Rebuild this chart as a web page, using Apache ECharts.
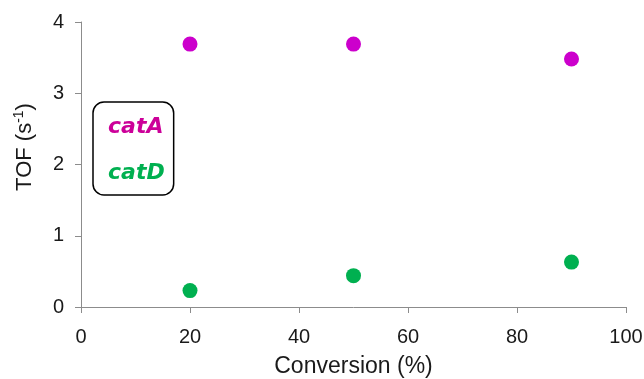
<!DOCTYPE html>
<html>
<head>
<meta charset="utf-8">
<script src="https://cdn.jsdelivr.net/npm/echarts@6/dist/echarts.min.js"></script>
<style>html,body{margin:0;padding:0;background:#fff}#c{width:644px;height:379px}</style>
</head>
<body>
<div id="c"></div>
<script>
const conversion = [20, 50, 90];
const catA = [3.69, 3.69, 3.48];
const catD = [0.23, 0.44, 0.63];
const seriesNames = ['catA', 'catD'];
const xTicks = [0, 20, 40, 60, 80, 100];
const yTicks = [0, 1, 2, 3, 4];

const chart = echarts.init(document.getElementById('c'));
const axisGray = '#8c8c8c';
const lab = {color: '#1a1a1a', fontSize: 20, fontFamily: 'Liberation Sans'};
chart.setOption({
  animation: false,
  grid: {left: 81, right: 18, top: 22, bottom: 72, containLabel: false, outerBoundsMode: 'none'},
  xAxis: {
    type: 'value', min: xTicks[0], max: xTicks[xTicks.length-1], interval: 20,
    axisLine: {lineStyle: {color: axisGray, width: 1}},
    axisTick: {show: true, length: 6, lineStyle: {color: axisGray}},
    splitLine: {show: false},
    axisLabel: Object.assign({margin: 20}, lab),
    name: 'Conversion (%)', nameLocation: 'middle', nameGap: 48,
    nameTextStyle: {color: '#1a1a1a', fontSize: 23, fontFamily: 'Liberation Sans'}
  },
  yAxis: {
    type: 'value', min: yTicks[0], max: yTicks[yTicks.length-1], interval: 1,
    axisLine: {show: true, lineStyle: {color: axisGray, width: 1}},
    axisTick: {show: true, length: 6, lineStyle: {color: axisGray}},
    splitLine: {show: false},
    axisLabel: Object.assign({margin: 17}, lab)
  },
  legend: {
    orient: 'vertical', left: 93, top: 102,
    data: [
      {name: seriesNames[0], textStyle: {color: '#cc0099'}},
      {name: seriesNames[1], textStyle: {color: '#00b050'}}
    ],
    icon: 'none', itemWidth: 0, itemHeight: 22, itemGap: 24,
    padding: [14, 9, 11, 10],
    borderColor: '#000', borderWidth: 1.5, borderRadius: 11,
    textStyle: {fontSize: 22, fontWeight: 'bold', fontStyle: 'italic', fontFamily: 'DejaVu Sans'},
    selectedMode: false
  },
  graphic: [{
    type: 'text', x: 24, y: 147, rotation: Math.PI/2,
    style: {
      text: '{a|TOF (s}{s|-1}{a|)}', align: 'center', verticalAlign: 'middle',
      rich: {
        a: {fontSize: 22, fontFamily: 'Liberation Sans', fill: '#1a1a1a', verticalAlign: 'bottom', lineHeight: 24},
        s: {fontSize: 14, fontFamily: 'Liberation Sans', fill: '#1a1a1a', verticalAlign: 'top', lineHeight: 24}
      }
    }
  }],
  series: [
    {name: seriesNames[0], type: 'scatter', symbolSize: 15, itemStyle: {color: '#cc00cc', opacity: 1},
     data: conversion.map((x, i) => [x, catA[i]])},
    {name: seriesNames[1], type: 'scatter', symbolSize: 15, itemStyle: {color: '#00b050', opacity: 1},
     data: conversion.map((x, i) => [x, catD[i]])}
  ]
});
</script>
</body>
</html>
